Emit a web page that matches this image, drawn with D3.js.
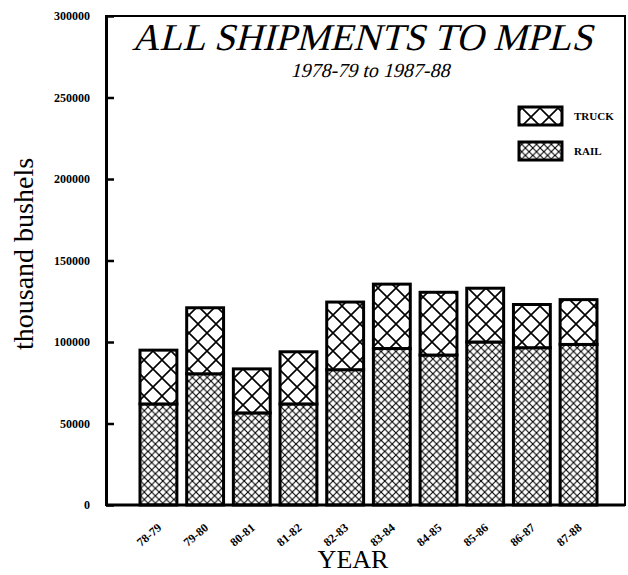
<!DOCTYPE html>
<html>
<head>
<meta charset="utf-8">
<script src="https://cdn.jsdelivr.net/npm/d3@7"></script>
<style>
  body { margin: 0; background: #fff; }
  text { font-family: "Liberation Serif", "DejaVu Serif", serif; fill: #000; }
</style>
</head>
<body>
<script>
"use strict";
// chart values (thousand bushels)
const years = ["78-79", "79-80", "80-81", "81-82", "82-83", "83-84", "84-85", "85-86", "86-87", "87-88"];
const rail = [62000, 80500, 56500, 62000, 83000, 96000, 92000, 100000, 96500, 98500];
const truck = [33000, 40500, 27000, 32000, 41500, 39500, 38500, 33000, 26500, 27500];
const yTicks = [0, 50000, 100000, 150000, 200000, 250000, 300000];

const measurements = {
    width: 628,
    height: 575,
    left: 106,
    right: 625,
    top: 16,
    bottom: 505
};
const serif = "Liberation Serif, Times New Roman, serif";

const svg = d3.select("body").append("svg")
    .attr("width", measurements.width)
    .attr("height", measurements.height);

// hatch patterns: big cross for truck, fine cross for rail
const defs = svg.append("defs");
function makeHatch(id, size, lineWidth) {
    const p = defs.append("pattern")
        .attr("id", id)
        .attr("patternUnits", "userSpaceOnUse")
        .attr("width", size)
        .attr("height", size);
    p.append("rect").attr("width", size).attr("height", size).attr("fill", "#fff");
    p.append("path")
        .attr("d", `M0,0L${size},${size}M${size},0L0,${size}`)
        .attr("stroke", "#000")
        .attr("stroke-width", lineWidth);
}
makeHatch("truckHatch", 18, 1.6);
makeHatch("railHatch", 7.4, 1.1);

const scaleY = d3.scaleLinear()
    .domain([0, 300000])
    .range([measurements.bottom, measurements.top]);

const scaleX = d3.scaleBand()
    .domain(years)
    .range([133, 604])
    .paddingInner(0.21)
    .paddingOuter(0.15);

// frame (top + right)
svg.append("rect")
    .attr("x", measurements.left)
    .attr("y", measurements.top)
    .attr("width", measurements.right - measurements.left)
    .attr("height", measurements.bottom - measurements.top)
    .attr("fill", "none")
    .attr("stroke", "#000")
    .attr("stroke-width", 2);

// bars
const stacked = years.map((yr, i) => ({ year: yr, rail: rail[i], truck: truck[i] }));
const bars = svg.append("g").selectAll("g")
    .data(stacked)
    .enter()
    .append("g");

bars.append("rect")
    .attr("x", d => scaleX(d.year))
    .attr("y", d => scaleY(d.rail))
    .attr("width", scaleX.bandwidth())
    .attr("height", d => scaleY(0) - scaleY(d.rail))
    .attr("fill", "url(#railHatch)")
    .attr("stroke", "#000")
    .attr("stroke-width", 3);

bars.append("rect")
    .attr("x", d => scaleX(d.year))
    .attr("y", d => scaleY(d.rail + d.truck))
    .attr("width", scaleX.bandwidth())
    .attr("height", d => scaleY(d.rail) - scaleY(d.rail + d.truck))
    .attr("fill", "url(#truckHatch)")
    .attr("stroke", "#000")
    .attr("stroke-width", 3);

// y axis, ticks pointing into the plot
const yAxis = d3.axisLeft(scaleY)
    .tickValues(yTicks)
    .tickFormat(d3.format("d"))
    .tickSizeInner(-8)
    .tickSizeOuter(0)
    .tickPadding(16);

const gy = svg.append("g")
    .attr("transform", `translate(${measurements.left},0)`)
    .call(yAxis);
gy.select(".domain").attr("stroke-width", 3);
gy.selectAll(".tick line").attr("stroke-width", 2.5);
gy.selectAll(".tick text")
    .attr("font-family", serif)
    .attr("font-size", 12)
    .attr("font-weight", "bold")
    .attr("fill", "#000");

// x axis
const xAxis = d3.axisBottom(scaleX).tickSize(0).tickPadding(0);
const gx = svg.append("g")
    .attr("transform", `translate(0,${measurements.bottom})`)
    .call(xAxis);
gx.select(".domain")
    .attr("d", `M${measurements.left},0H${measurements.right}`)
    .attr("stroke-width", 3);
gx.selectAll(".tick text")
    .attr("font-family", serif)
    .attr("font-size", 12)
    .attr("font-weight", "bold")
    .attr("fill", "#000")
    .attr("text-anchor", "end")
    .attr("dy", null)
    .attr("y", 0)
    .attr("transform", "translate(4,24) rotate(-40)");

// titles - slanted serif (skew keeps the serifs, like the scan)
svg.append("text")
    .attr("transform", "translate(362,50) skewX(-14)")
    .attr("text-anchor", "middle")
    .attr("font-family", serif)
    .attr("font-size", 38)
    .text("ALL SHIPMENTS TO MPLS");

svg.append("text")
    .attr("transform", "translate(370,77) skewX(-14)")
    .attr("text-anchor", "middle")
    .attr("font-family", serif)
    .attr("font-size", 20)
    .text("1978-79 to 1987-88");

// axis labels
svg.append("text")
    .attr("text-anchor", "middle")
    .attr("transform", "translate(33,254) rotate(-90)")
    .attr("font-family", serif)
    .attr("font-size", 28)
    .text("thousand bushels");

svg.append("text")
    .attr("x", 353)
    .attr("y", 568)
    .attr("text-anchor", "middle")
    .attr("font-family", serif)
    .attr("font-size", 26)
    .text("YEAR");

// legend
const legendItems = [
    { name: "TRUCK", fill: "url(#truckHatch)", y: 107 },
    { name: "RAIL", fill: "url(#railHatch)", y: 142 }
];
const legend = svg.append("g").selectAll("g")
    .data(legendItems)
    .enter()
    .append("g");
legend.append("rect")
    .attr("x", 519)
    .attr("y", d => d.y)
    .attr("width", 43)
    .attr("height", 18)
    .attr("fill", d => d.fill)
    .attr("stroke", "#000")
    .attr("stroke-width", 3);
legend.append("text")
    .attr("x", 574)
    .attr("y", d => d.y + 13)
    .attr("font-family", serif)
    .attr("font-size", 11)
    .attr("font-weight", "bold")
    .text(d => d.name);
</script>
</body>
</html>
